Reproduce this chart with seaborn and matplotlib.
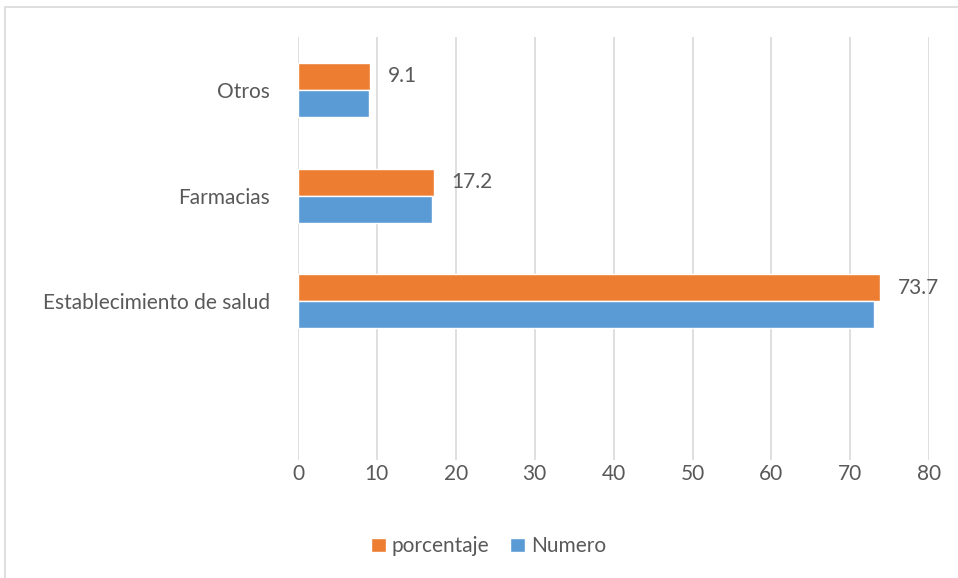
import pandas as pd
import seaborn as sns
import matplotlib.pyplot as plt
from matplotlib.patches import Rectangle

# data
categorias = ["Otros", "Farmacias", "Establecimiento de salud"]
porcentaje = [9.1, 17.2, 73.7]
numero = [9, 17, 73]
series = ["porcentaje", "Numero"]
colores = ["#ED7D31", "#5B9BD5"]

df = pd.DataFrame({
    "categoria": categorias * 2,
    "valor": porcentaje + numero,
    "serie": ["porcentaje"] * 3 + ["Numero"] * 3,
})

sns.set_style("white")
plt.rcParams['font.family'] = ['Lato', 'DejaVu Sans']
text_color = "#595959"
fs = 15

fig = plt.figure(figsize=(9.58, 5.78), dpi=100)
ax = fig.add_axes([0.311, 0.204, 0.659, 0.732])

sns.barplot(data=df, x="valor", y="categoria", hue="serie", order=categorias,
            hue_order=series, palette=colores, orient="h", width=0.51,
            saturation=1, ax=ax, legend=True)

# labels only on the porcentaje series
ax.bar_label(ax.containers[0], labels=[f"{v:.1f}" for v in porcentaje],
             padding=13, fontsize=fs, color=text_color)

ax.set_xlim(0, 80)
ax.set_ylim(3.5, -0.5)
ax.set_xticks(range(0, 81, 10))
ax.xaxis.grid(True, color="#D9D9D9", linewidth=1.2)
ax.set_axisbelow(True)
for s in ax.spines.values():
    s.set_visible(False)
ax.set_xlabel("")
ax.set_ylabel("")
ax.tick_params(axis="y", length=0, pad=20, labelsize=fs, labelcolor=text_color)
ax.tick_params(axis="x", length=0, pad=3, labelsize=fs, labelcolor=text_color)

ax.legend_.remove()
handles, labels = ax.get_legend_handles_labels()
fig.legend(handles, labels, loc="center", bbox_to_anchor=(0.51, 0.055), ncol=2,
           frameon=False, handlelength=0.7, handleheight=0.7, handletextpad=0.3,
           columnspacing=1.0, fontsize=fs, labelcolor=text_color)

# outer chart border
fig.patches.append(Rectangle((5 / 958, -0.01), 1.0, (578 - 7) / 578 + 0.01,
                             transform=fig.transFigure, fill=False,
                             edgecolor="#D9D9D9", linewidth=1.2))

fig.savefig("out.png", dpi=100)
